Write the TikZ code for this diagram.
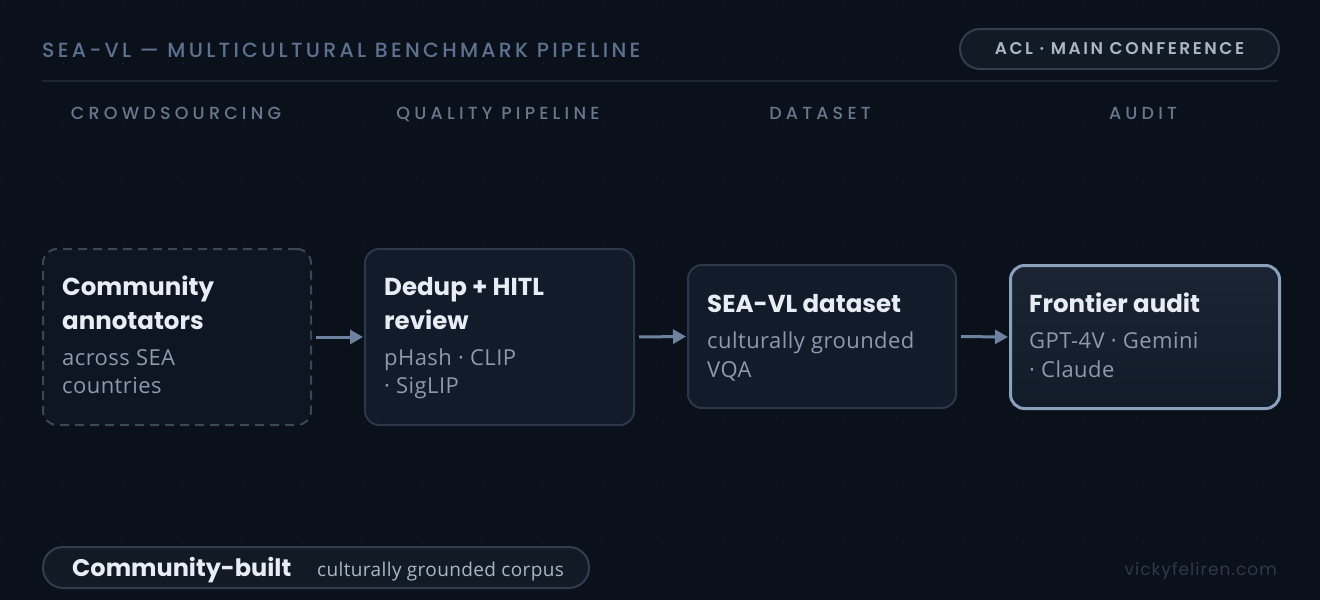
\documentclass[tikz,border=0pt]{standalone}
\usepackage{fontspec}
\setmainfont{Open Sans}
\newfontfamily\hfont{Poppins}
\newfontfamily\capfont{Poppins}[UprightFont=* Medium, BoldFont=* SemiBold, LetterSpace=16]
\newfontfamily\pillfont{Poppins}[UprightFont=* SemiBold, LetterSpace=15]
\newfontfamily\widecapfont{Poppins}[UprightFont=* Medium, LetterSpace=24]
\newfontfamily\footfont{Poppins}[LetterSpace=6]
\newfontfamily\subfont{Open Sans}[LetterSpace=2]
\usetikzlibrary{arrows.meta}
\definecolor{bg}{HTML}{0B111A}
\definecolor{griddot}{HTML}{18202C}
\definecolor{titlec}{HTML}{5C7290}
\definecolor{rulec}{HTML}{1C2532}
\definecolor{pillfill}{HTML}{121A26}
\definecolor{pillline}{HTML}{323E4E}
\definecolor{pilltext}{HTML}{A9B6C6}
\definecolor{colhead}{HTML}{66788E}
\definecolor{boxfillA}{HTML}{0E1623}
\definecolor{boxfillB}{HTML}{111B2A}
\definecolor{boxlineA}{HTML}{3A4757}
\definecolor{boxlineB}{HTML}{2C3849}
\definecolor{boxlineC}{HTML}{8AA0BB}
\definecolor{boxtopC}{HTML}{1A2433}
\definecolor{boxbotC}{HTML}{121B28}
\definecolor{ttlc}{HTML}{E8EDF4}
\definecolor{subc}{HTML}{8C9AAD}
\definecolor{arrc}{HTML}{6D829E}
\definecolor{footc}{HTML}{2C3A4B}
\tikzset{
  txt/.style={inner sep=0pt, anchor=base west},
  ttl/.style={txt, text=ttlc, font=\hfont\bfseries\fontsize{24.5}{24.5}\selectfont},
  sub/.style={txt, text=subc, font=\subfont\fontsize{22}{22}\selectfont},
  colh/.style={inner sep=0pt, anchor=base, text=colhead, font=\widecapfont\fontsize{17.5}{17.5}\selectfont},
  stagebox/.style={anchor=north west, inner sep=0pt, rounded corners=14pt, line width=2pt},
  arr/.style={draw=arrc, line width=3pt, -{Triangle[length=13pt,width=14pt]}, shorten <=4pt, shorten >=1pt},
}
\begin{document}
\begin{tikzpicture}[x=1pt,y=-1pt]
\useasboundingbox (0,0) rectangle (1320,600);
\fill[bg] (0,0) rectangle (1320,600);
\foreach \i in {0,...,21}{\foreach \j in {0,...,9}{\fill[griddot] (60*\i+3,60*\j+3) circle (1pt);}}
% header
\node[txt, text=titlec, font=\capfont\fontsize{20.5}{20.5}\selectfont] (title) at (42,57) {SEA-VL — MULTICULTURAL BENCHMARK PIPELINE};
\coordinate (rl) at (42,81);
\coordinate (rr) at (1278,81);
\draw[rulec, line width=2pt] (rl) -- (rr);
\node[anchor=north west, minimum width=319pt, minimum height=40pt, inner sep=0pt, rounded corners=20pt, fill=pillfill, draw=pillline, line width=2pt, text=pilltext, font=\pillfont\fontsize{17}{17}\selectfont] (acl) at (959,28) {ACL · MAIN CONFERENCE};
% column headers
\node[colh] (h1) at (176,119) {CROWDSOURCING};
\node[colh] (h2) at (498,119) {QUALITY PIPELINE};
\node[colh] (h3) at (820,119) {DATASET};
\node[colh] (h4) at (1143,119) {AUDIT};
% boxes
\node[stagebox, minimum width=268pt, minimum height=176pt, fill=boxfillA, draw=boxlineA, dash pattern=on 9pt off 6pt] (b1) at (42,248) {};
\node[stagebox, minimum width=269pt, minimum height=176pt, fill=boxfillB, draw=boxlineB] (b2) at (364,248) {};
\node[stagebox, minimum width=268pt, minimum height=143pt, fill=boxfillB, draw=boxlineB] (b3) at (687,264) {};
\node[stagebox, minimum width=269pt, minimum height=143pt, top color=boxtopC, bottom color=boxbotC, draw=boxlineC, line width=3pt] (b4) at (1009,264) {};
% box texts
\node[ttl] (t1a) at (62,295) {Community};
\node[ttl] (t1b) at (62,329) {annotators};
\node[sub] (s1a) at (62,365) {across SEA};
\node[sub] (s1b) at (62,393) {countries};
\node[ttl] (t2a) at (384,295) {Dedup + HITL};
\node[ttl] (t2b) at (384,329) {review};
\node[sub] (s2a) at (384,365) {pHash · CLIP};
\node[sub] (s2b) at (384,393) {· SigLIP};
\node[ttl] (t3a) at (707,312) {SEA-VL dataset};
\node[sub] (s3a) at (707,348) {culturally grounded};
\node[sub] (s3b) at (707,377) {VQA};
\node[ttl] (t4a) at (1029,312) {Frontier audit};
\node[sub] (s4a) at (1029,348) {GPT-4V · Gemini};
\node[sub] (s4b) at (1029,377) {· Claude};
% arrows
\draw[arr] (b1.east) -- (b2.west);
\draw[arr] (b2.east) -- (b3.west);
\draw[arr] (b3.east) -- (b4.west);
% footer
\node[anchor=north west, minimum width=546pt, minimum height=41pt, inner sep=0pt, rounded corners=20pt, fill=pillfill, draw=pillline, line width=2pt] (cb) at (42,546) {};
\node[txt, text=ttlc, font=\hfont\bfseries\fontsize{24}{24}\selectfont] (cbt) at (72,576) {Community-built};
\node[txt, text=pilltext, font=\subfont\fontsize{19}{19}\selectfont] (cbs) at (317,576) {culturally grounded corpus};
\node[inner sep=0pt, anchor=base east, text=footc, font=\footfont\fontsize{17}{17}\selectfont] (site) at (1277,575) {vickyfeliren.com};
\end{tikzpicture}
\end{document}
